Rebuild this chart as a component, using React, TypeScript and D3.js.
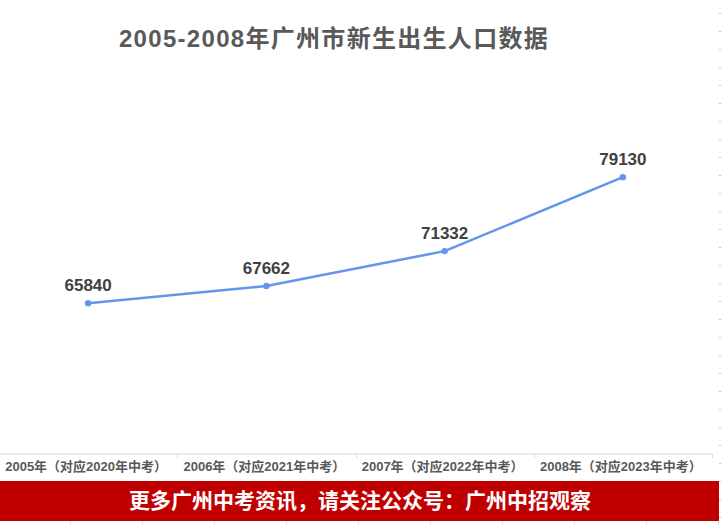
import React from "react";
import * as d3 from "d3";

const categories = [
  "2005年（对应2020年中考）",
  "2006年（对应2021年中考）",
  "2007年（对应2022年中考）",
  "2008年（对应2023年中考）",
];
const births = [65840, 67662, 71332, 79130];
const yDomain = [50000, 90000];
const titleText = "2005-2008年广州市新生出生人口数据";
const bannerText = "更多广州中考资讯，请关注公众号：广州中招观察";

const W = 721;
const H = 525;
const FONT = "'Liberation Sans', Arial, 'Noto Sans CJK SC', sans-serif";

export default function App() {
  React.useEffect(() => {
    document.body.style.margin = "0";
  }, []);

  const x = d3.scaleBand<string>().domain(categories).range([-1, 712]).padding(0);
  const y = d3.scaleLinear().domain(yDomain).range([453.5, 74]);
  const cx = (c: string) => (x(c) as number) + x.bandwidth() / 2;

  const line = d3
    .line<number>()
    .x((_, i) => cx(categories[i]))
    .y((d) => y(d));

  const axisY = y(yDomain[0]);
  const boundaries = categories.map((c) => (x(c) as number) + x.bandwidth());
  const rowDashes = d3.range(13.5, 522, 18);
  const colLines = d3.range(70.5, 721, 72);

  return (
    <svg
      width={W}
      height={H}
      style={{ display: "block", position: "absolute", left: 0, top: 0 }}
      fontFamily={FONT}
    >
      <rect x={0} y={0} width={W} height={H} fill="#ffffff" />
      {rowDashes.map((d, i) => (
        <line key={"rd" + i} x1={719} x2={721} y1={d} y2={d} stroke="#c8c8c8" strokeWidth={1} />
      ))}
      <text
        x={334}
        y={47}
        textAnchor="middle"
        fontSize={24}
        fontWeight="bold"
        fill="#595959"
        letterSpacing={1.3}
      >
        {titleText}
      </text>

      {/* axis */}
      <line x1={0} x2={712} y1={axisY + 0.5} y2={axisY + 0.5} stroke="#d9d9d9" strokeWidth={1} />
      {boundaries.map((b, i) => (
        <line
          key={"tk" + i}
          x1={Math.round(b) + 0.5}
          x2={Math.round(b) + 0.5}
          y1={axisY}
          y2={axisY + 5}
          stroke="#d9d9d9"
          strokeWidth={1}
        />
      ))}
      {categories.map((c) => (
        <text
          key={c}
          x={cx(c) - 2}
          y={471}
          textAnchor="middle"
          fontSize={13}
          fontWeight="bold"
          fill="#595959"
        >
          {c}
        </text>
      ))}

      {/* series */}
      <path d={line(births) || ""} fill="none" stroke="#6495ed" strokeWidth={2.5} strokeLinejoin="round" />
      {births.map((v, i) => (
        <circle key={"pt" + i} cx={cx(categories[i])} cy={y(v)} r={3.2} fill="#6495ed" />
      ))}
      {births.map((v, i) => (
        <text
          key={"lb" + i}
          x={cx(categories[i])}
          y={y(v) - 12}
          textAnchor="middle"
          fontSize={17}
          fontWeight="bold"
          fill="#404040"
        >
          {v}
        </text>
      ))}

      {/* banner */}
      <rect x={0} y={481} width={719} height={40} fill="#c00000" />
      <text
        x={360}
        y={508}
        textAnchor="middle"
        fontSize={21}
        fontWeight="bold"
        fill="#ffffff"
      >
        {bannerText}
      </text>
      {colLines.map((c, i) => (
        <line key={"cl" + i} x1={c} x2={c} y1={521} y2={525} stroke="#e0e0e0" strokeWidth={1} />
      ))}
    </svg>
  );
}
